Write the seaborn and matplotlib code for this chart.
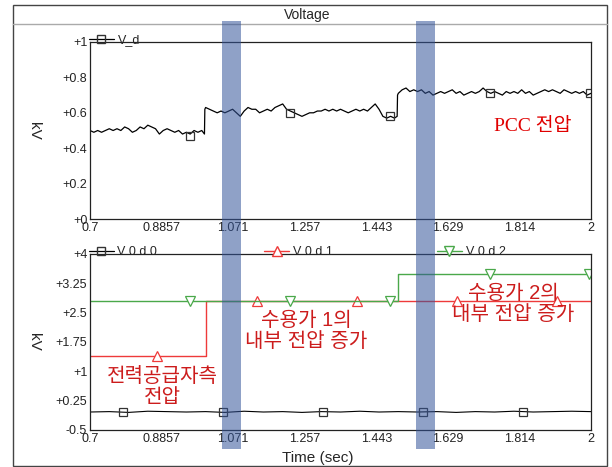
import numpy as np
import matplotlib
matplotlib.use("Agg")
import matplotlib.pyplot as plt
import matplotlib.transforms as mtransforms
from matplotlib.lines import Line2D
from matplotlib.patches import Rectangle
import seaborn as sns

# time axis ticks
xticks = [0.7, 0.8857, 1.071, 1.257, 1.443, 1.629, 1.814, 2.0]
xtick_labels = ["0.7", "0.8857", "1.071", "1.257", "1.443", "1.629", "1.814", "2"]

# PCC voltage V_d (kV)
t_vd_1 = [0.70, 0.71, 0.72, 0.73, 0.74, 0.75, 0.76, 0.77, 0.78, 0.79,
          0.80, 0.81, 0.82, 0.83, 0.84, 0.85, 0.86, 0.87, 0.88, 0.89,
          0.90, 0.91, 0.92, 0.93, 0.94, 0.95, 0.96, 0.97, 0.98, 0.99, 0.997]
vd_1 = [0.50, 0.49, 0.50, 0.49, 0.50, 0.51, 0.50, 0.51, 0.50, 0.52,
        0.51, 0.49, 0.50, 0.52, 0.51, 0.53, 0.52, 0.51, 0.48, 0.50,
        0.51, 0.50, 0.49, 0.50, 0.48, 0.49, 0.48, 0.50, 0.49, 0.50, 0.48]
t_vd_2 = [0.998, 1.00, 1.01, 1.02, 1.03, 1.04, 1.05, 1.06, 1.07, 1.08, 1.09,
          1.10, 1.11, 1.12, 1.13, 1.14, 1.15, 1.16, 1.17, 1.18, 1.19,
          1.20, 1.21, 1.22, 1.23, 1.24, 1.25, 1.26, 1.27, 1.28, 1.29,
          1.30, 1.31, 1.32, 1.33, 1.34, 1.35, 1.36, 1.37, 1.38, 1.39,
          1.40, 1.41, 1.42, 1.43, 1.44, 1.45, 1.46, 1.47, 1.48, 1.49, 1.497]
vd_2 = [0.62, 0.63, 0.62, 0.61, 0.60, 0.61, 0.60, 0.61, 0.62, 0.60, 0.58,
        0.61, 0.63, 0.62, 0.62, 0.60, 0.61, 0.62, 0.61, 0.63, 0.64,
        0.65, 0.62, 0.61, 0.60, 0.59, 0.58, 0.59, 0.60, 0.60, 0.61,
        0.61, 0.62, 0.61, 0.62, 0.61, 0.62, 0.61, 0.60, 0.61, 0.62,
        0.61, 0.62, 0.61, 0.63, 0.65, 0.62, 0.58, 0.57, 0.58, 0.57, 0.58]
t_vd_3 = [1.498, 1.50, 1.51, 1.52, 1.53, 1.54, 1.55, 1.56, 1.57, 1.58, 1.59,
          1.60, 1.61, 1.62, 1.63, 1.64, 1.65, 1.66, 1.67, 1.68, 1.69,
          1.70, 1.71, 1.72, 1.73, 1.74, 1.75, 1.76, 1.77, 1.78, 1.79,
          1.80, 1.81, 1.82, 1.83, 1.84, 1.85, 1.86, 1.87, 1.88, 1.89,
          1.90, 1.91, 1.92, 1.93, 1.94, 1.95, 1.96, 1.97, 1.98, 1.99, 2.00]
vd_3 = [0.70, 0.71, 0.73, 0.74, 0.72, 0.73, 0.72, 0.73, 0.71, 0.72, 0.70,
        0.71, 0.72, 0.71, 0.72, 0.73, 0.71, 0.72, 0.70, 0.71, 0.72,
        0.71, 0.72, 0.74, 0.72, 0.71, 0.72, 0.71, 0.70, 0.72, 0.71,
        0.72, 0.71, 0.73, 0.71, 0.72, 0.70, 0.71, 0.72, 0.73, 0.72,
        0.73, 0.72, 0.71, 0.73, 0.72, 0.71, 0.72, 0.71, 0.72, 0.70, 0.71]
vd_mark_t = [0.959, 1.219, 1.478, 1.738, 1.998]
vd_mark_v = [0.47, 0.60, 0.58, 0.71, 0.71]

# V0d0 (supplier side), nearly flat around zero
t_v0 = [0.70, 0.75, 0.80, 0.85, 0.90, 0.95, 1.00, 1.05, 1.10, 1.15, 1.20,
        1.25, 1.30, 1.35, 1.40, 1.45, 1.50, 1.55, 1.60, 1.65, 1.70,
        1.75, 1.80, 1.85, 1.90, 1.95, 2.00]
v0 = [-0.04, -0.03, -0.05, -0.02, -0.03, -0.04, -0.03, -0.05, -0.02, -0.04, -0.03,
      -0.05, -0.03, -0.04, -0.02, -0.04, -0.03, -0.04, -0.03, -0.05, -0.03,
      -0.04, -0.02, -0.04, -0.03, -0.02, -0.03]
v0_mark_t = [0.786, 1.045, 1.305, 1.564, 1.824]
v0_mark_v = [-0.03, -0.03, -0.03, -0.03, -0.03]

# V0d1 / V0d2 internal voltages (step signals)
t_v1 = [0.70, 1.00, 2.00]
v1 = [1.38, 2.80, 2.80]
v1_mark_t = [0.874, 1.133, 1.393, 1.652, 1.912]
v1_mark_v = [1.38, 2.80, 2.80, 2.80, 2.80]
t_v2 = [0.70, 1.50, 2.00]
v2 = [2.80, 3.50, 3.50]
v2_mark_t = [0.959, 1.219, 1.478, 1.738, 1.995]
v2_mark_v = [2.80, 2.80, 2.80, 3.50, 3.50]

# highlighted time windows
bands = [(1.0425, 1.091), (1.545, 1.595)]

sns.set_style("white")
plt.rcParams['font.family'] = ['Liberation Sans', 'Noto Sans CJK KR', 'DejaVu Sans']

W, H = 612, 467
fig = plt.figure(figsize=(W / 100, H / 100), dpi=100)

red = '#ee3a3a'
green = '#4aa84a'
txt_red = '#cc1c1c'

# outer frame + title bar
fig.add_artist(Rectangle((13 / W, 1 - 466 / H), 594 / W, 461 / H, transform=fig.transFigure,
                         fill=False, edgecolor='#444444', linewidth=1.0))
fig.add_artist(Line2D([13 / W, 607 / W], [1 - 24 / H, 1 - 24 / H], transform=fig.transFigure,
                      color='#aaaaaa', linewidth=1.0))
fig.text(307 / W, 1 - 15 / H, "Voltage", ha='center', va='center', fontsize=10)

ax1 = fig.add_axes([90 / W, 1 - 219 / H, 501 / W, 177 / H])
ax2 = fig.add_axes([90 / W, 1 - 430 / H, 501 / W, 176 / H])

# top: V_d
t_vd = t_vd_1 + t_vd_2 + t_vd_3
vd = vd_1 + vd_2 + vd_3
sns.lineplot(x=t_vd, y=vd, ax=ax1, color='black', linewidth=0.9, estimator=None, sort=False)
ax1.plot(vd_mark_t, vd_mark_v, linestyle='none', marker='s', markersize=6,
         markerfacecolor='none', markeredgecolor='#333333', markeredgewidth=0.9)

# bottom: V0d0, V0d1, V0d2
sns.lineplot(x=t_v0, y=v0, ax=ax2, color='black', linewidth=0.8, estimator=None, sort=False)
ax2.plot(v0_mark_t, v0_mark_v, linestyle='none', marker='s', markersize=6,
         markerfacecolor='none', markeredgecolor='#333333', markeredgewidth=0.9)
sns.lineplot(x=t_v1, y=v1, ax=ax2, color=red, linewidth=1.0, estimator=None, sort=False,
             drawstyle='steps-post')
ax2.plot(v1_mark_t, v1_mark_v, linestyle='none', marker='^', markersize=7,
         markerfacecolor='white', markeredgecolor=red, markeredgewidth=0.9)
sns.lineplot(x=t_v2, y=v2, ax=ax2, color=green, linewidth=1.0, estimator=None, sort=False,
             drawstyle='steps-post')
ax2.plot(v2_mark_t, v2_mark_v, linestyle='none', marker='v', markersize=7,
         markerfacecolor='white', markeredgecolor=green, markeredgewidth=0.9)

for ax in (ax1, ax2):
    ax.set_xlim(0.7, 2.0)
    ax.set_xticks(xticks)
    ax.set_xticklabels(xtick_labels)
    ax.tick_params(direction='in', length=5, width=0.8, labelsize=9, colors='#222222', pad=2)
    for s in ax.spines.values():
        s.set_color('#222222')
        s.set_linewidth(0.9)
    ax.set_xlabel("")
    ax.set_ylabel("kV", rotation=-90, fontsize=11, va='center')
    ax.yaxis.set_label_coords(-0.112, 0.5)

ax1.set_ylim(0, 1)
ax1.set_yticks([0, 0.2, 0.4, 0.6, 0.8, 1.0])
ax1.set_yticklabels(["+0", "+0.2", "+0.4", "+0.6", "+0.8", "+1"])
ax2.set_ylim(-0.5, 4)
ax2.set_yticks([-0.5, 0.25, 1, 1.75, 2.5, 3.25, 4])
ax2.set_yticklabels(["-0.5", "+0.25", "+1", "+1.75", "+2.5", "+3.25", "+4"])

fig.text(318 / W, 1 - 458 / H, "Time (sec)", ha='center', va='center', fontsize=11)

# legends above the axes, one entry each
leg_kw = dict(loc='lower left', frameon=False, fontsize=9, handlelength=2.0,
              handletextpad=0.3, borderaxespad=0, borderpad=0.1)
h_vd = Line2D([], [], color='black', linewidth=0.9, marker='s', markersize=6,
              markerfacecolor='none', markeredgecolor='#333333')
ax1.legend([h_vd], ["V_d"], bbox_to_anchor=(-0.005, 0.97), **leg_kw)

h0 = Line2D([], [], color='black', linewidth=0.9, marker='s', markersize=6,
            markerfacecolor='none', markeredgecolor='#333333')
h1 = Line2D([], [], color=red, linewidth=1.0, marker='^', markersize=7,
            markerfacecolor='white', markeredgecolor=red)
h2 = Line2D([], [], color=green, linewidth=1.0, marker='v', markersize=7,
            markerfacecolor='white', markeredgecolor=green)
leg_items = list(zip([h0, h1, h2], ["V 0 d 0", "V 0 d 1", "V 0 d 2"], [-0.005, 0.345, 0.69]))
for i, (h, lab, lx) in enumerate(leg_items):
    lg = ax2.legend([h], [lab], bbox_to_anchor=(lx, 0.97), **leg_kw)
    if i < len(leg_items) - 1:
        ax2.add_artist(lg)

# annotations
ax1.text(1.85, 0.52, "PCC 전압", color='#e00000', fontsize=14, ha='center', va='center',
         family=['Liberation Serif', 'Noto Sans CJK KR'])
ax2.text(1.262, 2.03, "수용가 1의\n내부 전압 증가", color=txt_red, fontsize=14.5, ha='center',
         va='center', linespacing=1.1)
ax2.text(1.798, 2.72, "수용가 2의\n내부 전압 증가", color=txt_red, fontsize=14.5, ha='center',
         va='center', linespacing=1.1)
ax2.text(0.887, 0.60, "전력공급자측\n전압", color=txt_red, fontsize=14.5, ha='center',
         va='center', linespacing=1.1)

# blue highlight bands across both panels
trans = mtransforms.blended_transform_factory(ax2.transData, fig.transFigure)
for x0, x1 in bands:
    fig.add_artist(Rectangle((x0, 1 - 449 / H), x1 - x0, 428 / H, transform=trans,
                             facecolor=(0.2, 0.33, 0.6), alpha=0.55, edgecolor='none', zorder=10))

fig.savefig("out.png", dpi=100)
